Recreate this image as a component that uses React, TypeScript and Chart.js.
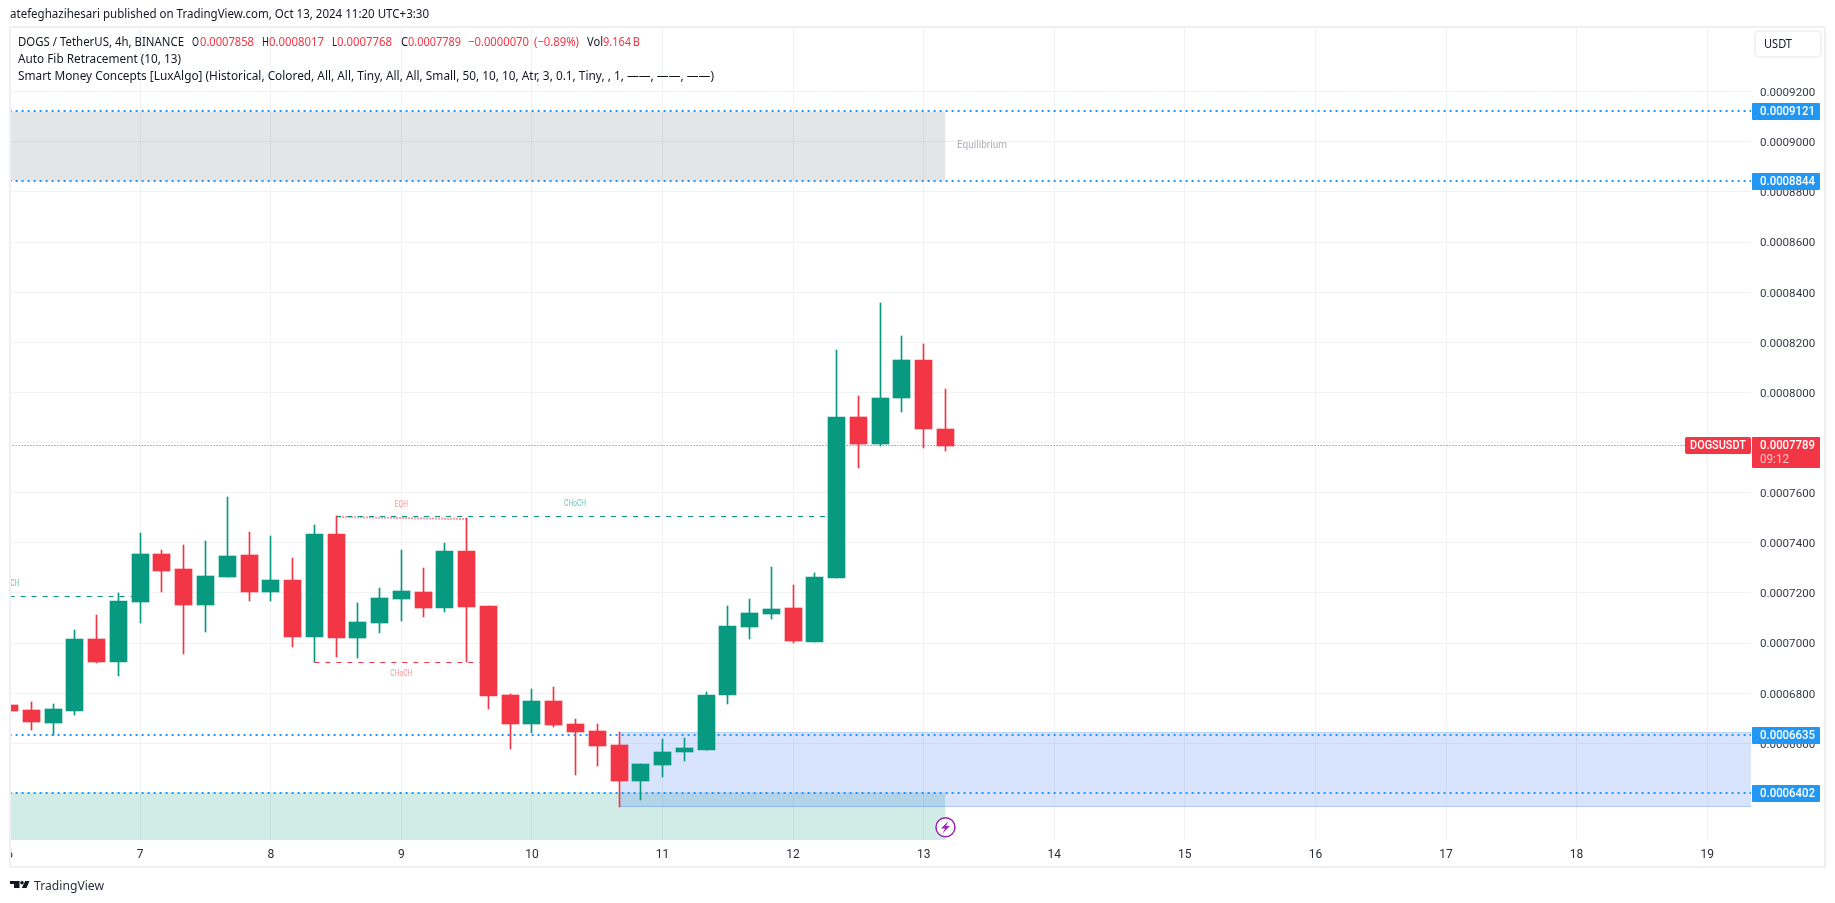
import React, { useEffect, useRef } from "react";
import { Chart, registerables } from "chart.js";

Chart.register(...registerables);

const candleDays = [6, 6.1667, 6.3333, 6.5, 6.6667, 6.8333, 7, 7.1667, 7.3333, 7.5, 7.6667, 7.8333, 8, 8.1667, 8.3333, 8.5, 8.6667, 8.8333, 9, 9.1667, 9.3333, 9.5, 9.6667, 9.8333, 10, 10.1667, 10.3333, 10.5, 10.6667, 10.8333, 11, 11.1667, 11.3333, 11.5, 11.6667, 11.8333, 12, 12.1667, 12.3333, 12.5, 12.6667, 12.8333, 13, 13.1667];
const opens = [6755, 6735, 6683, 6731, 7019, 6927, 7166, 7358, 7298, 7154, 7266, 7354, 7206, 7254, 7027, 7438, 7023, 7083, 7178, 7206, 7142, 7370, 7150, 6795, 6680, 6771, 6680, 6652, 6596, 6452, 6516, 6568, 6576, 6795, 7067, 7118, 7142, 7007, 7262, 7904, 7797, 7980, 8132, 7858];
const highs = [6755, 6767, 6759, 7055, 7114, 7202, 7442, 7374, 7394, 7410, 7585, 7446, 7430, 7342, 7474, 7510, 7162, 7222, 7374, 7302, 7402, 7502, 7150, 6799, 6819, 6827, 6700, 6680, 6648, 6520, 6620, 6624, 6807, 7150, 7178, 7306, 7234, 7282, 8172, 7988, 8359, 8228, 8196, 8017];
const lows = [6731, 6655, 6635, 6715, 6923, 6871, 7082, 7206, 6959, 7047, 7266, 7170, 7170, 6987, 6926, 6947, 6943, 7043, 7090, 7106, 7126, 6926, 6739, 6580, 6644, 6668, 6476, 6512, 6350, 6376, 6468, 6532, 6576, 6759, 7019, 7098, 7003, 7007, 7262, 7701, 7789, 7924, 7781, 7768];
const closes = [6731, 6687, 6739, 7019, 6927, 7170, 7358, 7290, 7154, 7270, 7350, 7206, 7254, 7027, 7438, 7023, 7086, 7182, 7210, 7142, 7370, 7146, 6791, 6680, 6771, 6676, 6648, 6592, 6452, 6520, 6568, 6584, 6795, 7071, 7122, 7138, 7011, 7266, 7904, 7797, 7980, 8132, 7857, 7789];
const PRICE_UNIT = 1e-7;

const priceTicks = [0.00092, 0.0009, 0.00088, 0.00086, 0.00084, 0.00082, 0.0008, 0.00078, 0.00076, 0.00074, 0.00072, 0.0007, 0.00068, 0.00066];
const dayTicks = [6, 7, 8, 9, 10, 11, 12, 13, 14, 15, 16, 17, 18, 19];
const fibLevels = [0.0009121, 0.0008844, 0.0006635, 0.0006402];
const lastPrice = 0.0007789;
const grayZone = { from: 6, to: 13.1667, top: 0.0009121, bottom: 0.0008844 };
const blueZone = { from: 10.6667, to: 19.4, top: 0.0006645, bottom: 0.0006347 };
const greenZone = { from: 6, to: 13.1667, top: 0.0006402, bottom: 0.0006 };
const chochLines = [
  { from: 6, to: 7, price: 0.0007185, color: "#089981" },
  { from: 8.5, to: 12.3333, price: 0.0007504, color: "#089981" },
  { from: 8.3333, to: 9.6667, price: 0.0006922, color: "#f23645" },
];
const eqhLine = [
  { x: 8.5, y: 0.0007504 },
  { x: 9.5, y: 0.0007496 },
];
const smcLabels = [
  { text: "CHoCH", day: 5.99, price: 0.00072377, color: "rgba(8,153,129,0.6)" },
  { text: "CHoCH", day: 10.33, price: 0.00075569, color: "rgba(8,153,129,0.6)" },
  { text: "EQH", day: 9, price: 0.0007551, color: "rgba(242,54,69,0.55)" },
  { text: "CHoCH", day: 9, price: 0.00068786, color: "rgba(242,54,69,0.55)" },
];

const GREEN = "#089981";
const RED = "#f23645";
const BLUE = "#2196f3";
const FRAME = "#eff0f5";
const INK = "#131722";
const UI_FONT = "'Noto Sans'";

function fit(ctx: any, text: string, x: number, y: number, w: number, font: string, color: string) {
  ctx.save();
  ctx.font = font;
  ctx.fillStyle = color;
  ctx.textBaseline = "middle";
  ctx.textAlign = "left";
  const natural = ctx.measureText(text).width;
  ctx.translate(x, y);
  ctx.scale(w / natural, 1);
  ctx.fillText(text, 0, 0);
  ctx.restore();
}

function roundBox(ctx: any, x: number, y: number, w: number, h: number, r: number, color: string) {
  ctx.fillStyle = color;
  ctx.beginPath();
  ctx.roundRect(x, y, w, h, r);
  ctx.fill();
}

// keeps thin lines and candle edges on whole device pixels, as the reference has them
const pixelSnapPlugin = {
  id: "pixelSnap",
  afterDatasetsUpdate(chart: any) {
    chart.data.datasets.forEach((ds: any, i: number) => {
      const meta = chart.getDatasetMeta(i);
      meta.data.forEach((el: any) => {
        if (meta.type === "bar") {
          el.x = Math.floor(el.x) + 0.5;
          el.y = Math.round(el.y + 0.6);
          el.base = Math.round(el.base + 0.6);
        } else if (ds.borderWidth === 2) {
          el.y = Math.round(el.y);
        } else {
          el.y = Math.floor(el.y) + 0.5;
        }
      });
    });
  },
  beforeDraw(chart: any) {
    chart.scales.y.getLabelItems().forEach((item: any) => {
      item.options.translation[1] += 1.5;
    });
  },
};

const overlayPlugin = {
  id: "overlay",
  afterDatasetsDraw(chart: any) {
    const { ctx, chartArea: a, scales } = chart;
    ctx.save();
    ctx.beginPath();
    ctx.rect(a.left, a.top, a.right - a.left, a.bottom - a.top);
    ctx.clip();
    smcLabels.forEach((l) => {
      const w = l.text === "EQH" ? 13 : 22;
      fit(ctx, l.text, scales.x.getPixelForValue(l.day) - w / 2, scales.y.getPixelForValue(l.price), w, "8.5px Roboto", l.color);
    });
    fit(ctx, "Equilibrium", 957, scales.y.getPixelForValue(0.0008984), 50, "10.5px Roboto", "#adb0b9");
    ctx.restore();

    // lightning marker on the last bar
    const mx = scales.x.getPixelForValue(13.1667);
    ctx.beginPath();
    ctx.arc(mx, 827.3, 9.5, 0, Math.PI * 2);
    ctx.fillStyle = "#ffffff";
    ctx.fill();
    ctx.lineWidth = 1.5;
    ctx.strokeStyle = "#9c27b0";
    ctx.stroke();
    ctx.fillStyle = "#9c27b0";
    ctx.beginPath();
    ctx.moveTo(mx + 3, 821);
    ctx.lineTo(mx - 4.5, 828.5);
    ctx.lineTo(mx - 0.5, 828.5);
    ctx.lineTo(mx - 3, 833.5);
    ctx.lineTo(mx + 4.5, 826);
    ctx.lineTo(mx + 0.5, 826);
    ctx.closePath();
    ctx.fill();
  },
  afterDraw(chart: any) {
    const { ctx, scales } = chart;
    ctx.save();
    // page margins and frame
    ctx.fillStyle = "#ffffff";
    ctx.fillRect(0, 0, 9, 903);
    ctx.fillStyle = FRAME;
    ctx.fillRect(9, 26, 2, 842);
    ctx.fillRect(1824, 26, 2, 842);
    ctx.fillRect(9, 26, 1817, 2);
    ctx.fillRect(9, 866, 1817, 2);

    // header texts
    fit(ctx, "atefeghazihesari published on TradingView.com, Oct 13, 2024 11:20 UTC+3:30", 10, 15, 419, `12px ${UI_FONT}`, INK);
    const L = `12.5px ${UI_FONT}`;
    fit(ctx, "DOGS / TetherUS, 4h, BINANCE", 18, 42, 166, L, INK);
    fit(ctx, "O", 192, 42, 7, L, INK);
    fit(ctx, "0.0007858", 200, 42, 54, L, RED);
    fit(ctx, "H", 262, 42, 7, L, INK);
    fit(ctx, "0.0008017", 269, 42, 55, L, RED);
    fit(ctx, "L", 332, 42, 5, L, INK);
    fit(ctx, "0.0007768", 337, 42, 55, L, RED);
    fit(ctx, "C", 401, 42, 7, L, INK);
    fit(ctx, "0.0007789", 408, 42, 53, L, RED);
    fit(ctx, "\u22120.0000070", 468, 42, 61, L, RED);
    fit(ctx, "(\u22120.89%)", 534, 42, 45, L, RED);
    fit(ctx, "Vol", 587, 42, 16, L, INK);
    fit(ctx, "9.164\u202fB", 603, 42, 37, L, RED);
    fit(ctx, "Auto Fib Retracement (10, 13)", 18, 59, 163, L, INK);
    fit(ctx, "Smart Money Concepts [LuxAlgo] (Historical, Colored, All, All, Tiny, All, All, Small, 50, 10, 10, Atr, 3, 0.1, Tiny, , 1, \u2014\u2014, \u2014\u2014, \u2014\u2014)", 18, 76, 696, L, INK);

    // currency button
    ctx.strokeStyle = "#eceef3";
    ctx.lineWidth = 1.5;
    ctx.beginPath();
    ctx.roundRect(1755, 31, 66, 26, 4);
    ctx.stroke();
    fit(ctx, "USDT", 1764, 44.5, 28, `12px ${UI_FONT}`, INK);

    // fib level tags
    fibLevels.forEach((p) => {
      const py = Math.round(scales.y.getPixelForValue(p));
      roundBox(ctx, 1752, py - 8, 68, 17, 1, BLUE);
      fit(ctx, p.toFixed(7), 1760, py + 0.5, 55, `500 12px Roboto`, "#ffffff");
    });

    // last price tags
    roundBox(ctx, 1752, 437, 68, 31, 1, RED);
    fit(ctx, lastPrice.toFixed(7), 1760, 446, 55, `500 12px Roboto`, "#ffffff");
    fit(ctx, "09:12", 1760, 460, 29, `12px Roboto`, "#fbc4c8");
    roundBox(ctx, 1685, 437, 66, 17, 2, RED);
    fit(ctx, "DOGSUSDT", 1690, 446, 56, `500 12px Roboto`, "#ffffff");

    // TradingView logo
    ctx.fillStyle = "#131722";
    ctx.fillRect(10, 881, 9.5, 3);
    ctx.fillRect(14, 884, 5.5, 4);
    ctx.beginPath();
    ctx.arc(22, 882.8, 1.8, 0, Math.PI * 2);
    ctx.fill();
    ctx.beginPath();
    ctx.moveTo(25.2, 881);
    ctx.lineTo(29.5, 881);
    ctx.lineTo(26.5, 888);
    ctx.lineTo(21.8, 888);
    ctx.closePath();
    ctx.fill();
    fit(ctx, "TradingView", 34, 886, 70, `13px ${UI_FONT}`, "#2a2e39");
    ctx.restore();
  },
};

function hLine(from: number, to: number, price: number, extra: any) {
  return {
    type: "line",
    data: [
      { x: from, y: price },
      { x: to, y: price },
    ],
    pointRadius: 0,
    tension: 0,
    fill: false,
    ...extra,
  };
}

export default function App() {
  const ref = useRef<HTMLCanvasElement>(null);
  useEffect(() => {
    document.body.style.margin = "0";
    const isUp = (i: number) => closes[i] >= opens[i];
    const candleColor = candleDays.map((_, i) => (isUp(i) ? GREEN : RED));
    const zoneDatasets = [
      hLine(grayZone.from, grayZone.to, grayZone.top, { fill: { value: grayZone.bottom }, backgroundColor: "rgba(120,123,134,0.2)", borderWidth: 0, order: 100 }),
      hLine(greenZone.from, greenZone.to, greenZone.top, { fill: { value: greenZone.bottom }, backgroundColor: "rgba(8,153,129,0.19)", borderWidth: 0, order: 99 }),
      hLine(blueZone.from, blueZone.to, blueZone.top, { fill: { value: blueZone.bottom }, backgroundColor: "rgba(41,110,240,0.19)", borderColor: "rgba(41,110,240,0.25)", borderWidth: 1, order: 98 }),
      hLine(blueZone.from, blueZone.to, blueZone.bottom, { borderColor: "rgba(41,110,240,0.28)", borderWidth: 1, order: 98 }),
    ];
    const levelDatasets = fibLevels.map((p) =>
      hLine(6, 19.4, p, { borderColor: BLUE, borderWidth: 2, borderDash: [2, 4], order: 50 })
    );
    const chochDatasets = chochLines.map((l) =>
      hLine(l.from, l.to, l.price, { borderColor: l.color, borderWidth: 1, borderDash: [5, 6], order: 40 })
    );
    const chart = new Chart(ref.current as HTMLCanvasElement, {
      type: "bar",
      data: {
        datasets: [
          ...zoneDatasets,
          ...levelDatasets,
          ...chochDatasets,
          { type: "line", data: eqhLine, borderColor: "rgba(242,54,69,0.5)", borderWidth: 2, borderDash: [2, 1], pointRadius: 0, fill: false, order: 41 },
          {
            type: "bar",
            data: candleDays.map((d, i) => ({ x: d, y: [lows[i] * PRICE_UNIT, highs[i] * PRICE_UNIT] })),
            backgroundColor: candleColor,
            barThickness: 1,
            grouped: false,
            order: 20,
          },
          {
            type: "bar",
            data: candleDays.map((d, i) => ({ x: d, y: [opens[i] * PRICE_UNIT, closes[i] * PRICE_UNIT] })),
            backgroundColor: candleColor,
            barThickness: 17,
            grouped: false,
            order: 10,
          },
          hLine(6, 19.4, lastPrice, { borderColor: RED, borderWidth: 1, borderDash: [1, 2], order: 5 }),
        ] as any,
      },
      options: {
        animation: false,
        responsive: false,
        events: [],
        layout: { autoPadding: false, padding: { left: 11, top: 28, right: 9, bottom: 37 } },
        plugins: { legend: { display: false }, tooltip: { enabled: false } },
        scales: {
          x: {
            type: "linear",
            offset: false,
            min: 6.0106,
            max: 19.3355,
            afterBuildTicks: (s: any) => {
              s.ticks = dayTicks.map((value) => ({ value }));
            },
            afterFit: (s: any) => {
              s.height = 26;
              s.paddingLeft = 0;
              s.paddingRight = 0;
            },
            grid: { offset: false, color: "#f1f2f5", lineWidth: 1, drawTicks: false },
            border: { display: false },
            ticks: { autoSkip: false, maxRotation: 0, padding: 8, color: "#2a2e39", font: { family: "Roboto", size: 12 }, callback: (v: any) => String(v) },
          },
          y: {
            type: "linear",
            position: "right",
            min: 0.00062143,
            max: 0.00094541,
            afterBuildTicks: (s: any) => {
              s.ticks = priceTicks.map((value) => ({ value }));
            },
            afterFit: (s: any) => {
              s.width = 75;
              s.paddingTop = 0;
              s.paddingBottom = 0;
            },
            grid: { color: "#f1f2f5", lineWidth: 1, drawTicks: false },
            border: { display: false },
            ticks: { padding: 9, color: "#363a45", font: { family: "Roboto", size: 11.6 }, callback: (v: any) => Number(v).toFixed(7) },
          },
        },
      } as any,
      plugins: [pixelSnapPlugin, overlayPlugin],
    });
    return () => chart.destroy();
  }, []);
  return (
    <div style={{ width: 1835, height: 903, background: "#fff" }}>
      <canvas ref={ref} width={1835} height={903} style={{ display: "block" }} />
    </div>
  );
}
